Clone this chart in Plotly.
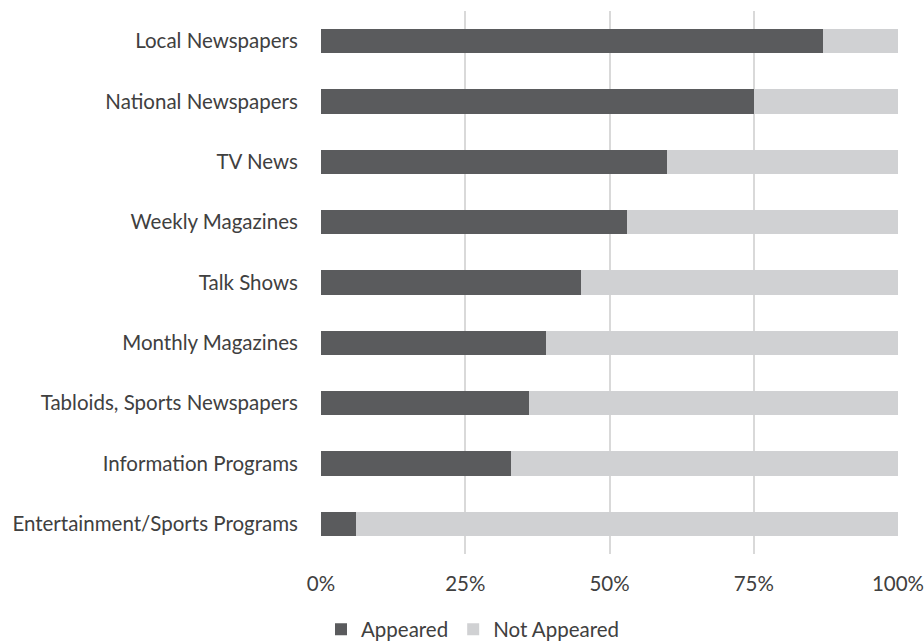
import plotly.graph_objects as go

categories = [
    "Local Newspapers",
    "National Newspapers",
    "TV News",
    "Weekly Magazines",
    "Talk Shows",
    "Monthly Magazines",
    "Tabloids, Sports Newspapers",
    "Information Programs",
    "Entertainment/Sports Programs",
]
appeared = [87, 75, 60, 53, 45, 39, 36, 33, 6]
not_appeared = [100 - v for v in appeared]
x_ticks = [0, 25, 50, 75, 100]
x_tick_labels = ["0%", "25%", "50%", "75%", "100%"]

DARK = "#5a5b5d"
LIGHT = "#d0d1d3"
TEXT = "#404040"
FONT = "Lato"
SIZE = 20.5

fig = go.Figure()
fig.add_trace(go.Bar(
    y=categories, x=appeared, name="Appeared", orientation="h",
    marker=dict(color=DARK, line=dict(width=0)),
))
fig.add_trace(go.Bar(
    y=categories, x=not_appeared, name="Not Appeared", orientation="h",
    marker=dict(color=LIGHT, line=dict(width=0)),
))

fig.update_layout(
    barmode="stack",
    bargap=0.6,
    width=924, height=642,
    margin=dict(l=320.5, r=26, t=11, b=88, autoexpand=False),
    paper_bgcolor="white", plot_bgcolor="white",
    font=dict(family=FONT, size=SIZE, color=TEXT),
    showlegend=True,
    legend=dict(
        orientation="h", x=0.0, xanchor="left", y=-0.102, yanchor="top",
        font=dict(family=FONT, size=SIZE, color=TEXT),
        itemwidth=30, tracegroupgap=0, traceorder="normal",
    ),
)
fig.update_xaxes(
    range=[0, 100], tickvals=x_ticks, ticktext=x_tick_labels,
    showgrid=True, gridcolor="#d9d9d9", gridwidth=2,
    zeroline=False, showline=False, automargin=False,
    ticks="outside", ticklen=11, tickcolor="rgba(0,0,0,0)",
    ticklabeloverflow="allow",
    tickfont=dict(family=FONT, size=SIZE, color=TEXT),
    fixedrange=True,
)
fig.update_yaxes(
    categoryorder="array", categoryarray=categories, autorange="reversed",
    showgrid=False, zeroline=False, showline=False, automargin=False,
    ticks="outside", ticklen=18, tickcolor="rgba(0,0,0,0)",
    tickfont=dict(family=FONT, size=SIZE, color=TEXT),
    fixedrange=True,
)

fig.write_html("out.html")
